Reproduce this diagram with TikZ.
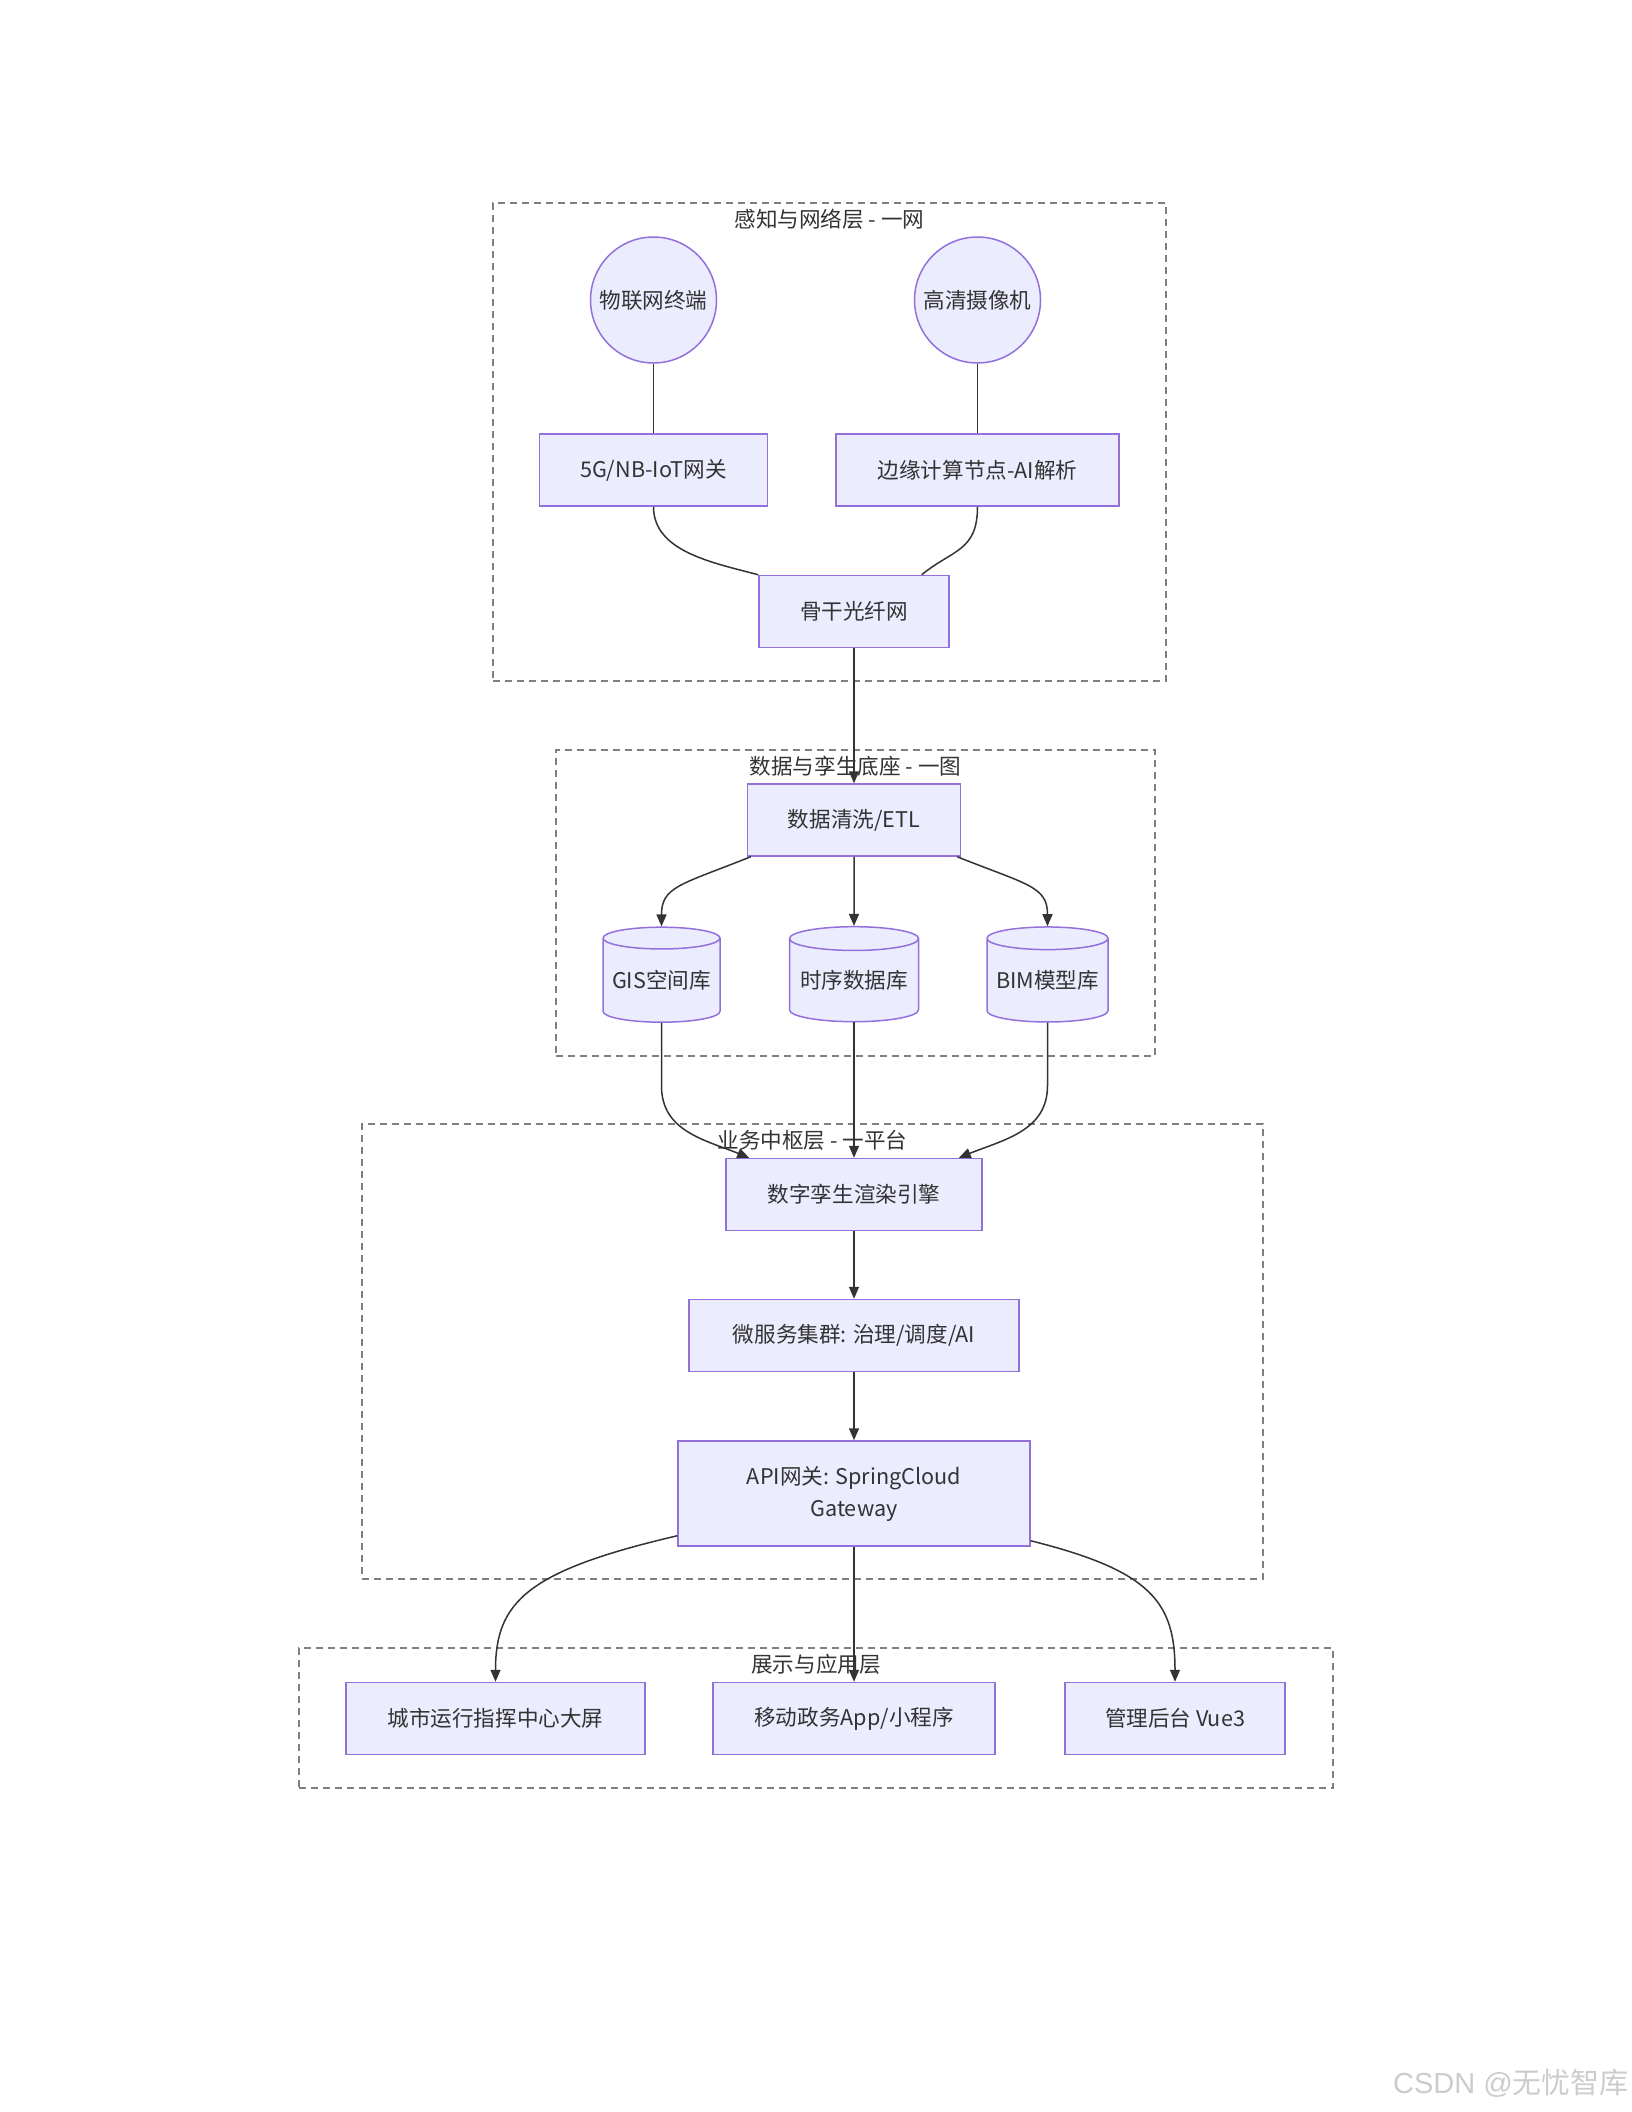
\documentclass[tikz,border=0pt]{standalone}
\usepackage{fontspec}
\usepackage{xcolor}
\usepackage{tikz}
\usetikzlibrary{arrows.meta,positioning,shapes.geometric}

\newfontfamily\cjkfont{Noto Sans CJK SC}
\newfontfamily\markfont{Liberation Sans}

\definecolor{nodefill}{HTML}{ECECFF}
\definecolor{nodeline}{HTML}{9370DB}
\definecolor{ink}{HTML}{333333}
\definecolor{framegray}{HTML}{7F7F7F}

\begin{document}
\begin{tikzpicture}[
			x=1pt, y=-1pt,
			font=\cjkfont\fontsize{21.6}{32}\selectfont,
			text=ink,
			>={Triangle[length=12pt,width=10pt]},
			termnode/.style={circle, draw=nodeline, fill=nodefill, line width=1.5pt, minimum size=126pt, inner sep=0pt},
			procbox/.style={draw=nodeline, fill=nodefill, line width=1.5pt, minimum height=72pt, inner sep=0pt, align=center},
			dbnode/.style={cylinder, shape border rotate=90, aspect=0.22, draw=nodeline, fill=nodefill, line width=1.5pt, minimum height=95pt, inner sep=0pt},
			layerbox/.style={draw=framegray, line width=1.5pt, dash pattern=on 7pt off 5pt},
			layertitle/.style={inner sep=2pt},
			link/.style={draw=ink, line width=1.5pt},
			arrow/.style={link,->}
			]
			
			\useasboundingbox (0,0) rectangle (1632,2112);
			
			% Layer frames
			\node[layerbox, minimum width=673pt, minimum height=478pt] (netlayer) at (829.5,442) {};
			\node[layertitle, below=5pt of netlayer.north] (nettitle) {感知与网络层 - 一网};
			\node[layerbox, minimum width=599pt, minimum height=306pt] (datalayer) at (855.5,903) {};
			\node[layertitle, below=5pt of datalayer.north] (datatitle) {数据与孪生底座 - 一图};
			\node[layerbox, minimum width=901pt, minimum height=455pt] (hublayer) at (812.5,1351.5) {};
			\node[layertitle, below=5pt of hublayer.north] (hubtitle) {业务中枢层 - 一平台};
			\node[layerbox, minimum width=1034pt, minimum height=140pt] (applayer) at (816,1718) {};
			\node[layertitle, below=5pt of applayer.north] (apptitle) {展示与应用层};
			
			% SENSING AND NETWORK
			\node[termnode] (iot) at (653.5,300) {物联网终端};
			\node[termnode] (cam) at (977.5,300) {高清摄像机};
			\node[procbox, minimum width=228pt] (gw) at (653.5,470) {5G/NB-IoT网关};
			\node[procbox, minimum width=283pt] (edgeai) at (977.5,470) {边缘计算节点-AI解析};
			\node[procbox, minimum width=190pt] (fiber) at (854,611.5) {骨干光纤网};
			
			% DATA AND TWIN BASE
			\node[procbox, minimum width=213pt] (etl) at (854,820) {数据清洗/ETL};
			\node[dbnode, minimum width=117pt] (gis) at (661.5,980.5) {GIS空间库};
			\node[dbnode, minimum width=129pt] (tsdb) at (854,980.5) {时序数据库};
			\node[dbnode, minimum width=121pt] (bim) at (1047.5,980.5) {BIM模型库};
			
			% BUSINESS HUB
			\node[procbox, minimum width=256pt] (render) at (854,1194.5) {数字孪生渲染引擎};
			\node[procbox, minimum width=330pt] (micro) at (854,1335.5) {微服务集群: 治理/调度/AI};
			\node[procbox, minimum width=352pt, minimum height=105pt] (api) at (854,1493.5) {API网关: SpringCloud\\Gateway};
			
			% APPLICATIONS
			\node[procbox, minimum width=299pt] (screen) at (495.5,1718.5) {城市运行指挥中心大屏};
			\node[procbox, minimum width=282pt] (mobile) at (854,1718.5) {移动政务App/小程序};
			\node[procbox, minimum width=220pt] (admin) at (1175,1718.5) {管理后台 Vue3};
			
			% Watermark
			\node[anchor=east, inner sep=0pt, text=gray!40, font=\cjkfont\fontsize{29}{34}\selectfont] (mark) at (1629,2083) {{\markfont CSDN @}无忧智库};
			
			% Network links
			\draw[link] (iot) -- (gw);
			\draw[link] (cam) -- (edgeai);
			\draw[link] (gw.south) .. controls +(0,45) and +(-45,-12) .. (fiber.north west);
			\draw[link] (edgeai.south) .. controls +(0,45) and +(30,-25) .. ([xshift=-28pt]fiber.north east);
			
			% Into the data layer
			\draw[arrow] (fiber) -- (etl);
			\draw[arrow] ([xshift=4pt]etl.south west) .. controls +(-70,28) and +(0,-40) .. (gis.north);
			\draw[arrow] (etl) -- (tsdb);
			\draw[arrow] ([xshift=-4pt]etl.south east) .. controls +(70,28) and +(0,-40) .. (bim.north);
			
			% Into the hub layer
			\draw[arrow] (gis.south) -- ++(0,63) .. controls +(0,45) and +(-45,-18) .. ([xshift=24pt]render.north west);
			\draw[arrow] (tsdb) -- (render);
			\draw[arrow] (bim.south) -- ++(0,63) .. controls +(0,45) and +(45,-18) .. ([xshift=-24pt]render.north east);
			\draw[arrow] (render) -- (micro);
			\draw[arrow] (micro) -- (api);
			
			% Out to the applications
			\draw[arrow] ([yshift=11pt]api.south west) .. controls +(-150,35) and +(0,-80) .. (screen.north);
			\draw[arrow] (api) -- (mobile);
			\draw[arrow] ([yshift=6pt]api.south east) .. controls +(120,30) and +(0,-80) .. (admin.north);
			
		\end{tikzpicture}
\end{document}
